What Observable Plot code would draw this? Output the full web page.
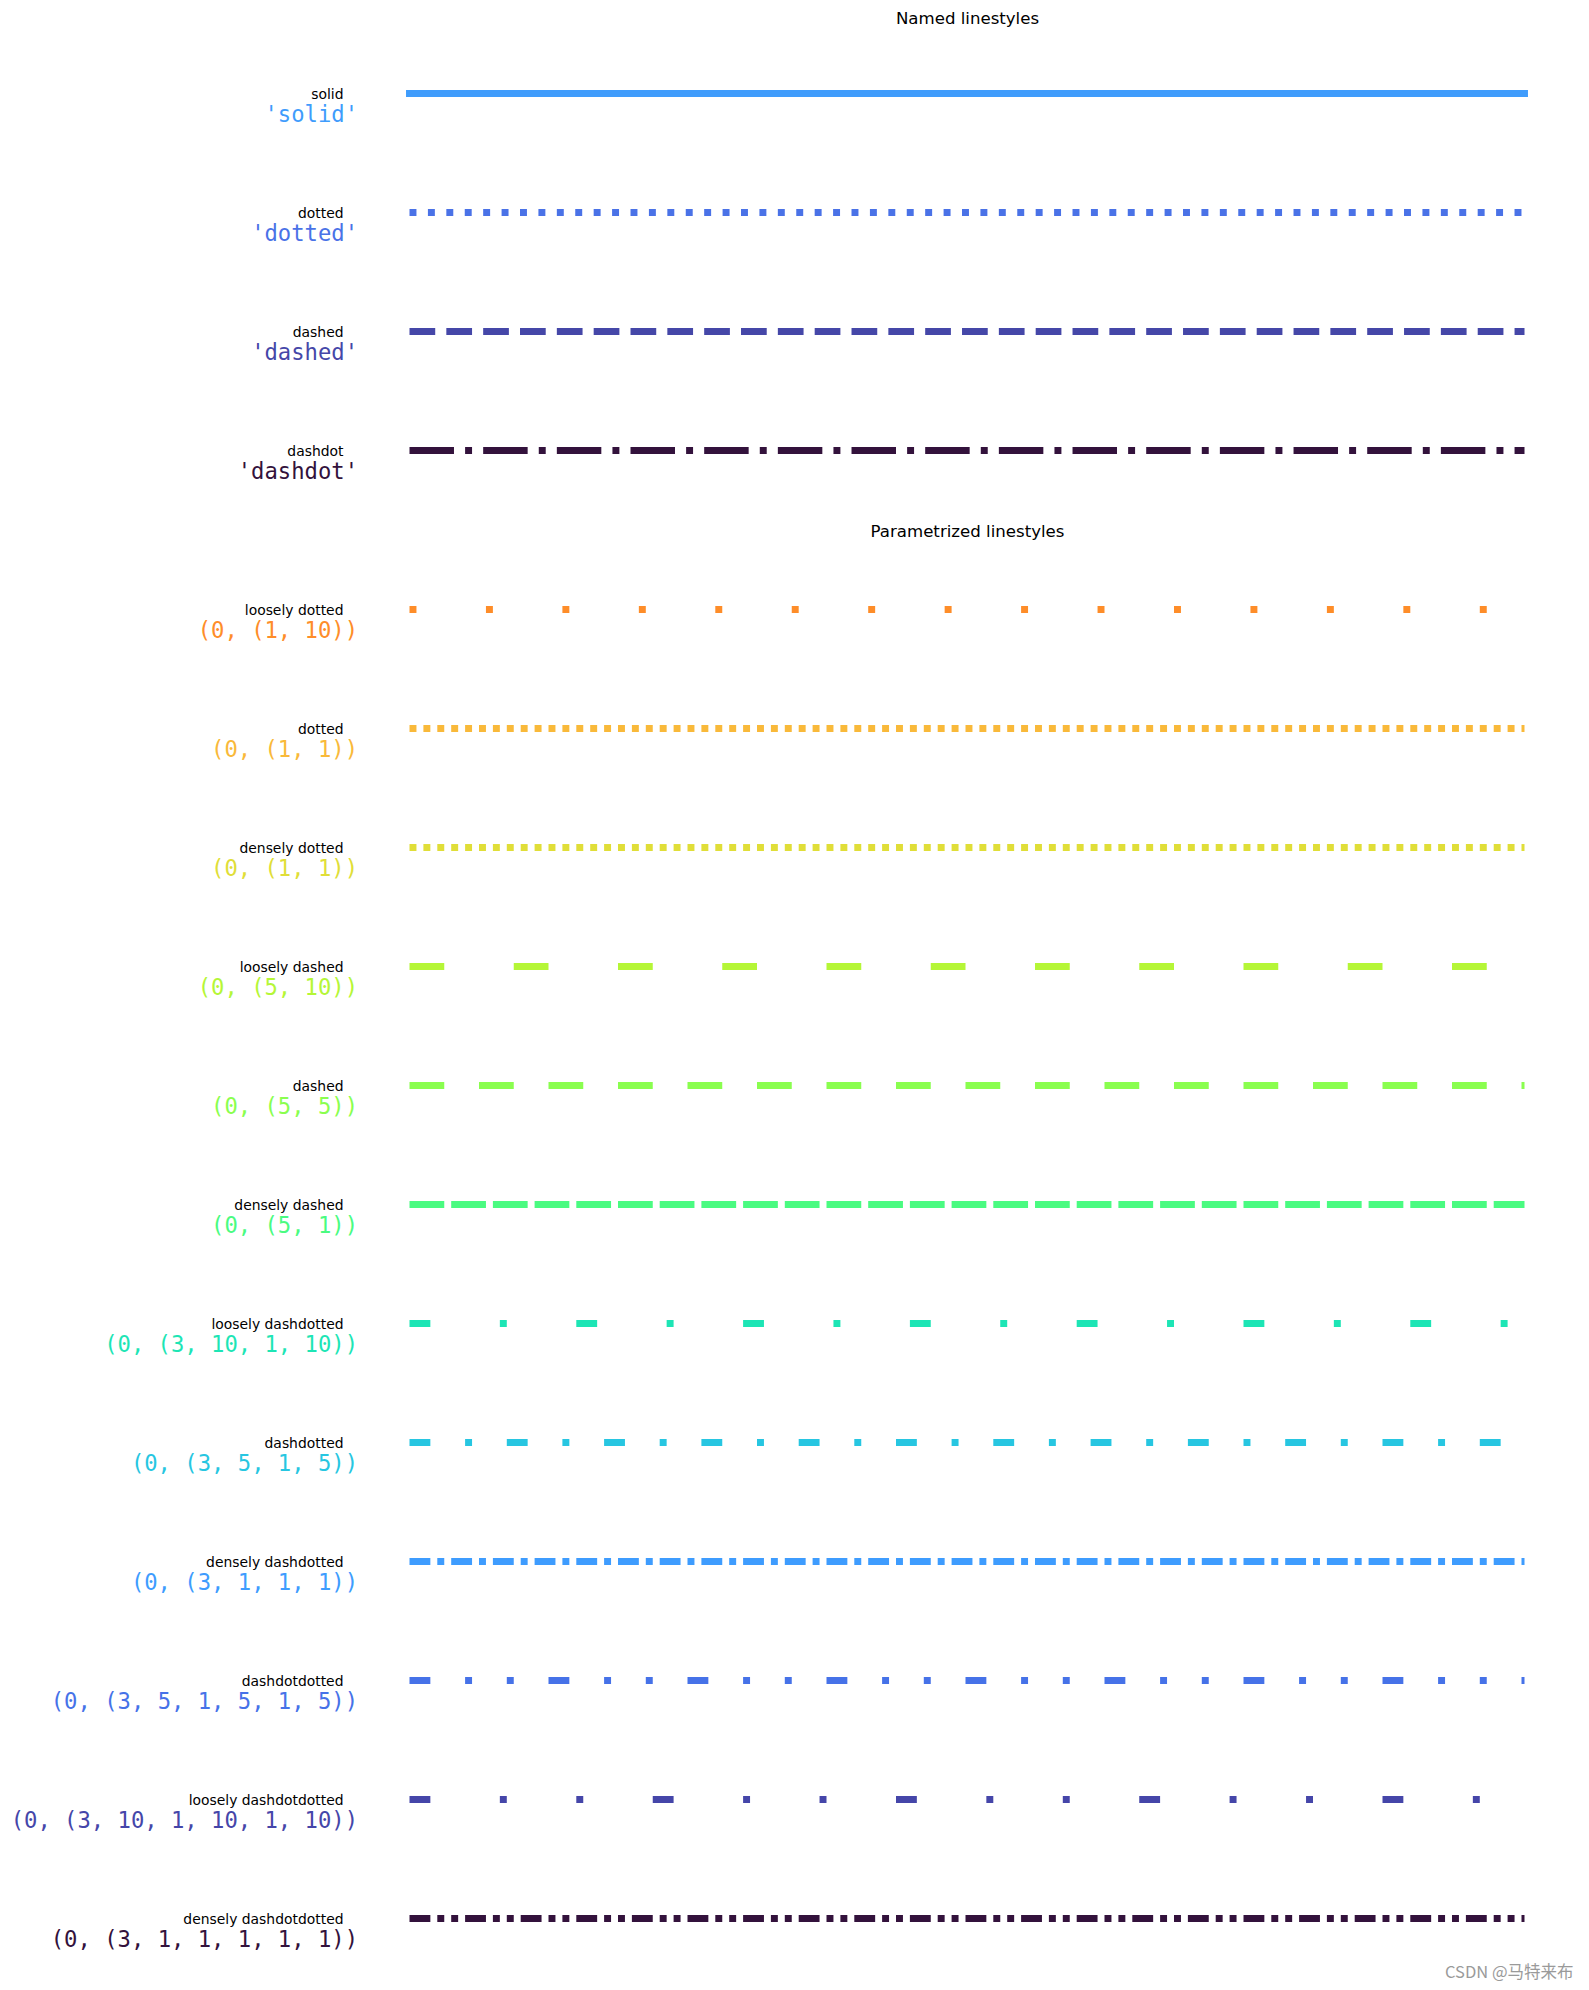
<!DOCTYPE html>
<html>
<head>
<meta charset="utf-8">
<script src="https://cdn.jsdelivr.net/npm/d3@7"></script>
<script src="https://cdn.jsdelivr.net/npm/@observablehq/plot@0.6"></script>
<style>
  html, body { margin: 0; padding: 0; background: #ffffff; }
  #chart { width: 1589px; }
  #chart svg { display: block; }
</style>
</head>
<body>
<div id="chart"></div>
<script>
// ---------- data ----------
const lineExtent = [0, 100];

const namedTitle = "Named linestyles";
const namedNames = ["solid", "dotted", "dashed", "dashdot"];
const namedPatterns = [[], [1, 1.65], [3.7, 1.6], [6.4, 1.6, 1, 1.6]];
const namedColors = ["#3f9cfc", "#4a72e7", "#4547a8", "#33123c"];

const paramTitle = "Parametrized linestyles";
const paramNames = [
  "loosely dotted", "dotted", "densely dotted",
  "loosely dashed", "dashed", "densely dashed",
  "loosely dashdotted", "dashdotted", "densely dashdotted",
  "dashdotdotted", "loosely dashdotdotted", "densely dashdotdotted"
];
const paramOffsets = [0, 0, 0, 0, 0, 0, 0, 0, 0, 0, 0, 0];
const paramPatterns = [
  [1, 10], [1, 1], [1, 1],
  [5, 10], [5, 5], [5, 1],
  [3, 10, 1, 10], [3, 5, 1, 5], [3, 1, 1, 1],
  [3, 5, 1, 5, 1, 5], [3, 10, 1, 10, 1, 10], [3, 1, 1, 1, 1, 1]
];
const paramColors = [
  "#fe8d29", "#f9b93a", "#e0de38",
  "#b5f637", "#8afe4f", "#4afb81",
  "#1de5b5", "#27c6e1", "#3e9cfe",
  "#4672e8", "#4546a9", "#33123c"
];

const watermark = "CSDN @马特来布";

// ---------- styles ----------
const LW = 6.95;              // line width in px; dash unit = line width
const W = 1589;
const ML = 409.5, MR = 64.5;  // frame = line extent
const sans = "'DejaVu Sans', sans-serif";
const mono = "'DejaVu Sans Mono', monospace";

const namedRows = namedNames.map((name, i) => ({
  name,
  code: `'${name}'`,
  pattern: namedPatterns[i],
  color: namedColors[i],
  x1: lineExtent[0],
  x2: lineExtent[1]
}));

const paramRows = paramNames.map((name, i) => ({
  name,
  code: `(${paramOffsets[i]}, (${paramPatterns[i].join(", ")}))`,
  pattern: paramPatterns[i],
  offset: paramOffsets[i],
  color: paramColors[i],
  x1: lineExtent[0],
  x2: lineExtent[1]
}));

function panel({rows, title, height, marginTop, marginBottom, extra = []}) {
  const lineMarks = rows.map(r => Plot.ruleY([r], {
    y: "name",
    x1: "x1",
    x2: "x2",
    stroke: r.color,
    strokeWidth: LW,
    strokeDasharray: r.pattern.length ? r.pattern.map(v => (v * LW).toFixed(3)).join(" ") : undefined,
    strokeDashoffset: r.offset ? r.offset * LW : undefined,
    strokeLinecap: r.pattern.length ? "butt" : "square"
  }));
  return Plot.plot({
    width: W,
    height,
    marginLeft: ML,
    marginRight: MR,
    marginTop,
    marginBottom,
    style: {background: "#ffffff", overflow: "visible"},
    x: {domain: lineExtent, axis: null},
    y: {type: "point", domain: rows.map(d => d.name), padding: 0.5, axis: null},
    marks: [
      ...lineMarks,
      Plot.text(rows, {
        x: "x1", y: "name", text: "name",
        textAnchor: "end", lineAnchor: "middle",
        dx: -66.5, dy: 1.4,
        fontFamily: sans, fontSize: 13.9, fill: "#000000"
      }),
      Plot.text(rows, {
        x: "x1", y: "name", text: "code",
        textAnchor: "end", lineAnchor: "middle",
        dx: -52, dy: 21.5,
        fontFamily: mono, fontSize: 22.2, fill: d => d.color
      }),
      Plot.text([title], {
        frameAnchor: "top", text: d => d,
        lineAnchor: "middle", dy: -14.6,
        fontFamily: sans, fontSize: 16.6, fill: "#000000"
      }),
      ...extra
    ]
  });
}

const namedPanel = panel({
  rows: namedRows, title: namedTitle,
  height: 510, marginTop: 32.6, marginBottom: 0
});

const paramPanel = panel({
  rows: paramRows, title: paramTitle,
  height: 1480, marginTop: 36, marginBottom: 10,
  extra: [
    Plot.text([watermark], {
      frameAnchor: "bottom-right", text: d => d,
      textAnchor: "end", lineAnchor: "middle",
      dx: 48.5, dy: -8,
      fontFamily: "'Noto Sans CJK SC', 'Liberation Sans', sans-serif",
      fontSize: 16.5, fill: "#9a9a9a"
    })
  ]
});

const chartEl = document.getElementById("chart");
chartEl.appendChild(namedPanel);
chartEl.appendChild(paramPanel);
</script>
</body>
</html>
